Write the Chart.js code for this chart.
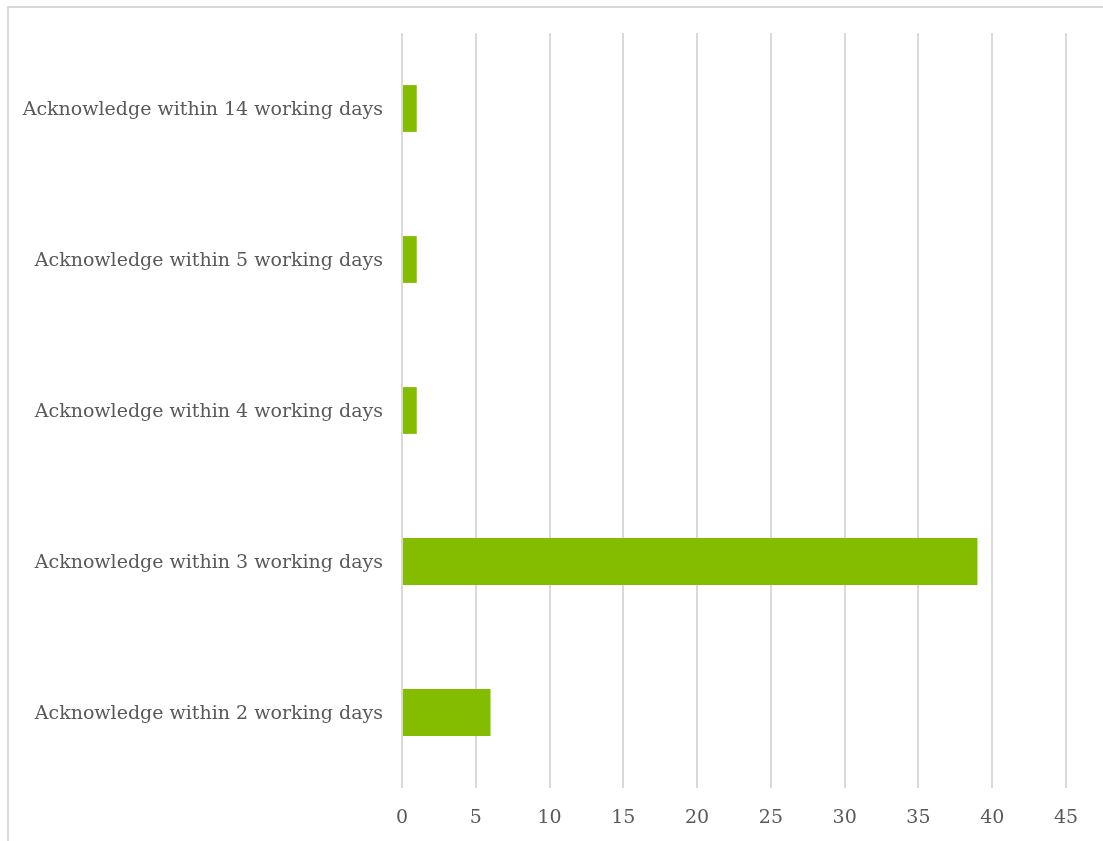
<!DOCTYPE html>
<html>
<head>
<meta charset="utf-8">
<script src="https://cdn.jsdelivr.net/npm/chart.js@4"></script>
<style>
  html, body { margin: 0; padding: 0; background: #fff; }
  #wrap { position: relative; width: 1103px; height: 841px; overflow: hidden; }
  #frame {
    position: absolute; left: 7px; top: 6px; right: -10px; bottom: -10px;
    border-top: 2px solid #d9d9d9; border-left: 2px solid #d9d9d9;
  }
  #myChart { position: absolute; left: 0; top: 0; }
</style>
</head>
<body>
<div id="wrap">
  <div id="frame"></div>
  <canvas id="myChart" width="1103" height="841"></canvas>
</div>
<script>
const categories = [
  "Acknowledge within 14 working days",
  "Acknowledge within 5 working days",
  "Acknowledge within 4 working days",
  "Acknowledge within 3 working days",
  "Acknowledge within 2 working days"
];
const counts = [1, 1, 1, 39, 6];
const xMin = 0;
const xMax = 45;
const xStep = 5;

const textColor = "#595959";
const gridColor = "#d9d9d9";
const labelFont = { family: "'DejaVu Serif', serif", size: 19 };

let myChart = document.querySelector("#myChart");
new Chart(myChart, {
  type: "bar",
  data: {
    labels: categories,
    datasets: [{
      data: counts,
      backgroundColor: "#84bd00",
      borderWidth: 0,
      categoryPercentage: 1,
      barPercentage: 0.31
    }]
  },
  options: {
    indexAxis: "y",
    responsive: false,
    animation: false,
    layout: { padding: { top: 33, right: 37, left: 0, bottom: 0 } },
    plugins: { legend: { display: false }, tooltip: { enabled: false } },
    scales: {
      x: {
        min: xMin,
        max: xMax,
        ticks: { stepSize: xStep, color: textColor, font: labelFont, padding: 19 },
        grid: { color: gridColor, lineWidth: 2, drawTicks: false },
        border: { display: false },
        afterFit: (scale) => { scale.height = 53; }
      },
      y: {
        ticks: { color: textColor, font: labelFont, padding: 19, labelOffset: 2 },
        grid: { display: false, drawTicks: false },
        border: { display: false },
        afterFit: (scale) => { scale.width = 402; }
      }
    }
  }
});
</script>
</body>
</html>
